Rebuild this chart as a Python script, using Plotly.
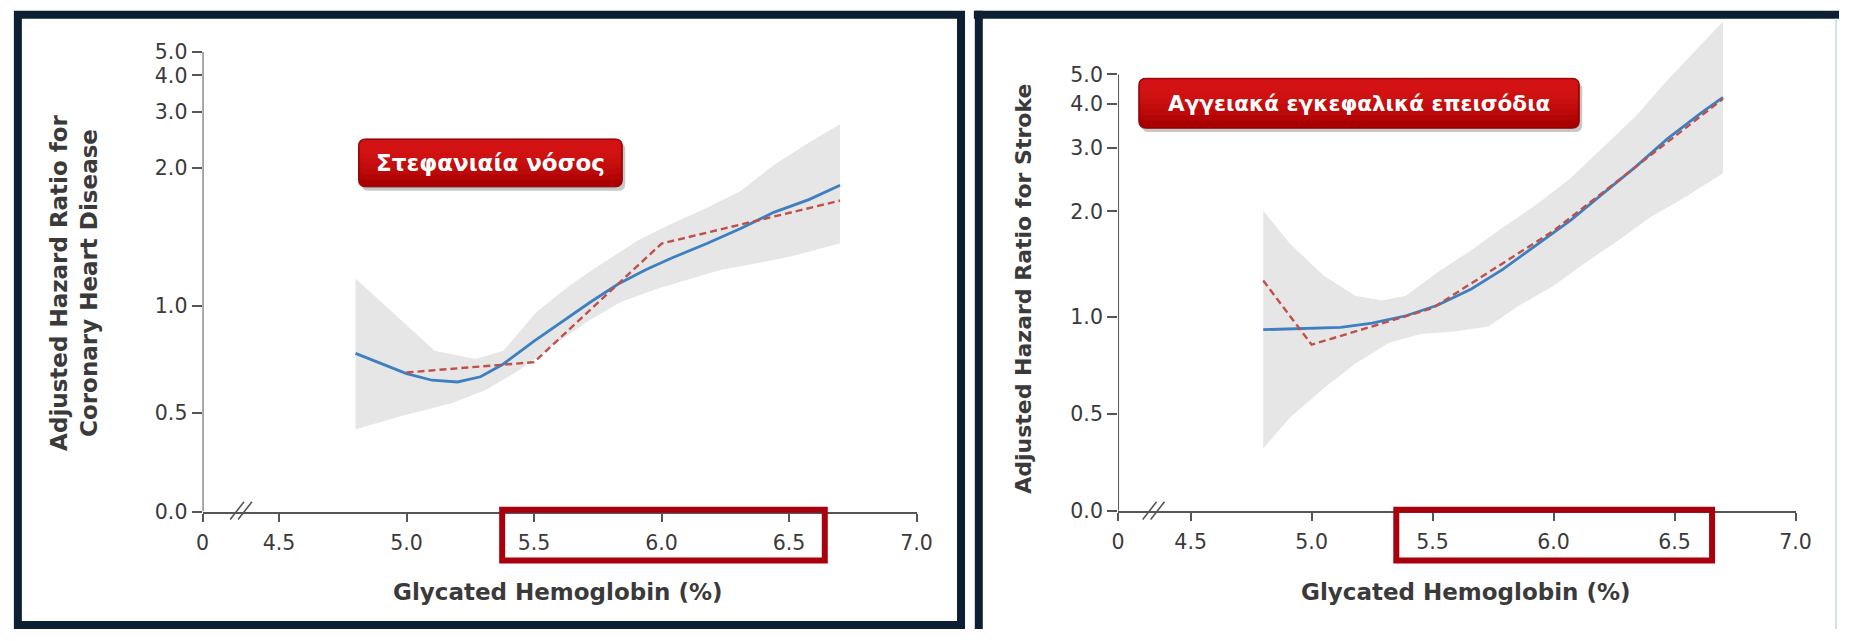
import numpy as np
import plotly.graph_objects as go

W, H = 1855, 641

# ---------------- data ----------------
# Coronary heart disease: spline estimate, category estimates and 95% band
chd_x = [4.8, 5.0, 5.1, 5.2, 5.29, 5.38, 5.5, 5.62, 5.72, 5.83, 5.94, 6.04, 6.18, 6.31, 6.44, 6.58, 6.7]
chd_hr = [0.736, 0.645, 0.618, 0.611, 0.632, 0.687, 0.797, 0.915, 1.02, 1.118, 1.203, 1.274,
          1.372, 1.477, 1.603, 1.711, 1.837]
chd_cat_x = [5.0, 5.5, 6.0, 6.7]
chd_cat_hr = [0.65, 0.695, 1.37, 1.70]
chd_upper_x = [4.8, 5.0, 5.11, 5.27, 5.38, 5.51, 5.64, 5.75, 5.91, 6.04, 6.18, 6.31, 6.44, 6.58, 6.7]
chd_upper = [1.149, 0.886, 0.748, 0.709, 0.748, 0.965, 1.109, 1.223, 1.395, 1.514, 1.643, 1.784,
             2.047, 2.41, 2.74]
chd_lower_x = [4.8, 4.98, 5.18, 5.31, 5.44, 5.58, 5.71, 5.84, 5.98, 6.11, 6.24, 6.38, 6.51, 6.7]
chd_lower = [0.449, 0.49, 0.533, 0.58, 0.658, 0.78, 0.905, 1.021, 1.09, 1.146, 1.203, 1.243,
             1.285, 1.372]

# Stroke
stk_x = [4.8, 4.98, 5.12, 5.25, 5.39, 5.52, 5.66, 5.79, 5.93, 6.07, 6.2, 6.34, 6.47, 6.61, 6.7]
stk_hr = [0.913, 0.919, 0.928, 0.957, 1.008, 1.08, 1.202, 1.367, 1.604, 1.884, 2.228, 2.66,
          3.18, 3.77, 4.2]
stk_cat_x = [4.8, 5.0, 5.5, 6.0, 6.7]
stk_cat_hr = [1.27, 0.82, 1.06, 1.76, 4.15]
stk_upper_x = [4.8, 4.91, 5.05, 5.18, 5.29, 5.39, 5.52, 5.66, 5.79, 5.93, 6.07, 6.2, 6.34,
               6.47, 6.61, 6.7]
stk_upper = [2.01, 1.62, 1.31, 1.15, 1.115, 1.15, 1.34, 1.55, 1.8, 2.09, 2.47, 2.98, 3.69,
             4.78, 6.28, 7.47]
stk_lower_x = [4.8, 4.91, 5.05, 5.18, 5.32, 5.45, 5.59, 5.73, 5.86, 6.0, 6.13, 6.27, 6.4,
               6.54, 6.7]
stk_lower = [0.39, 0.486, 0.6, 0.715, 0.832, 0.886, 0.902, 0.934, 1.08, 1.228, 1.426, 1.657,
             1.924, 2.18, 2.55]

# axis ticks
tick_hr = [0.5, 1.0, 2.0, 3.0, 4.0, 5.0]
tick_hr_text = ["0.5", "1.0", "2.0", "3.0", "4.0", "5.0"]
x_tick_vals = [4.2, 4.5, 5.0, 5.5, 6.0, 6.5, 7.0]
x_tick_text = ["0", "4.5", "5.0", "5.5", "6.0", "6.5", "7.0"]

# ---------------- hazard-ratio scale ----------------
# The vertical scale is piecewise logarithmic between the labelled ticks
# (spacing of each panel's printed axis); 0.0 marks the axis origin.
chd_scale = [101, 210, 351, 409, 446, 470]
stk_scale = [99, 198, 306, 371, 416, 446]


def hr_axis(hr, scale):
    lh = np.log(np.asarray(hr, float))
    lt = np.log(tick_hr)
    tu = np.asarray(scale, float)
    u = np.interp(lh, lt, tu)
    lo, hi = lh < lt[0], lh > lt[-1]
    u[lo] = tu[0] + (lh[lo] - lt[0]) * (tu[1] - tu[0]) / (lt[1] - lt[0])
    u[hi] = tu[-1] + (lh[hi] - lt[-1]) * (tu[-1] - tu[-2]) / (lt[-1] - lt[-2])
    return u


def px(x):
    return x / W


def py(y):
    return 1 - y / H


BAND = "#e6e6e6"
BLUE = "#3d7fc0"
RED = "#c0504a"
AXIS = "#555555"
TXT = "#3a3a3a"

fig = go.Figure()


def add_panel(xa, ya, x, hr, cx, chr_, ux, up, lx, lo, scale):
    bx = list(ux) + list(lx)[::-1]
    by = np.concatenate([hr_axis(up, scale), hr_axis(lo, scale)[::-1]])
    fig.add_trace(go.Scatter(x=bx, y=by, xaxis=xa, yaxis=ya, fill="toself", fillcolor=BAND,
                             line=dict(width=0), mode="lines", hoverinfo="skip", showlegend=False))
    fig.add_trace(go.Scatter(x=x, y=hr_axis(hr, scale), xaxis=xa, yaxis=ya, mode="lines",
                             line=dict(color=BLUE, width=2.8), showlegend=False))
    fig.add_trace(go.Scatter(x=cx, y=hr_axis(chr_, scale), xaxis=xa, yaxis=ya, mode="lines",
                             line=dict(color=RED, width=2.4, dash="7px,4px"), showlegend=False))


add_panel("x", "y", chd_x, chd_hr, chd_cat_x, chd_cat_hr, chd_upper_x, chd_upper,
          chd_lower_x, chd_lower, chd_scale)
add_panel("x2", "y2", stk_x, stk_hr, stk_cat_x, stk_cat_hr, stk_upper_x, stk_upper,
          stk_lower_x, stk_lower, stk_scale)

tickfont = dict(family="DejaVu Sans", size=20.5, color=TXT)


def xaxis(domain):
    return dict(domain=domain, range=[4.2, 7.0], showgrid=False, zeroline=False,
                showline=True, linecolor=AXIS, linewidth=2, ticks="outside", ticklen=8,
                tickwidth=2, tickcolor=AXIS, tickvals=x_tick_vals, ticktext=x_tick_text,
                tickfont=tickfont, ticklabelstandoff=4)


def yaxis(domain, top, scale, anchor):
    return dict(domain=domain, range=[0, top], showgrid=False, zeroline=False, showline=False,
                ticks="outside", ticklen=10, tickwidth=2, tickcolor=AXIS,
                tickvals=[0] + list(hr_axis(tick_hr, scale)), ticktext=["0.0"] + tick_hr_text,
                tickfont=tickfont, anchor=anchor)


fig.update_layout(
    width=W, height=H, autosize=False,
    margin=dict(l=0, r=0, t=0, b=0),
    paper_bgcolor="white", plot_bgcolor="rgba(0,0,0,0)",
    xaxis=dict(xaxis([px(198), px(921)]), anchor="y"),
    yaxis=yaxis([py(521), py(41)], 480, chd_scale, "x"),
    xaxis2=dict(xaxis([px(1125), px(1811)]), anchor="y2"),
    yaxis2=yaxis([py(520), py(12)], 508, stk_scale, "x2"),
)

shapes = []
# vertical axis lines from 0.0 up to 5.0
for xr, yr, scale in (("x", "y", chd_scale), ("x2", "y2", stk_scale)):
    shapes.append(dict(type="line", xref=xr, yref=yr, x0=4.2, x1=4.2, y0=0,
                       y1=float(hr_axis([5.0], scale)[0]), line=dict(color=AXIS, width=2)))

# axis break marks
for x0 in (226, 234, 1150, 1158):
    shapes.append(dict(type="line", xref="paper", yref="paper", x0=px(x0), x1=px(x0 + 14),
                       y0=py(529), y1=py(511), line=dict(color=AXIS, width=1.6)))

# highlighted 5.5-6.5 range
for xr, a, b in (("x", 5.375, 6.64), ("x2", 5.35, 6.655)):
    shapes.append(dict(type="rect", xref=xr, yref="paper", x0=a, x1=b, y0=py(571), y1=py(519),
                       line=dict(color="#a8000c", width=6), layer="above"))

# panel frames
FRAME = "#0d1f33"
shapes.append(dict(type="rect", xref="paper", yref="paper", x0=px(11), x1=px(966),
                   y0=py(637), y1=py(13), line=dict(color=FRAME, width=8)))
shapes.append(dict(type="line", xref="paper", yref="paper", x0=px(979), x1=1,
                   y0=py(13), y1=py(13), line=dict(color=FRAME, width=8)))
shapes.append(dict(type="line", xref="paper", yref="paper", x0=px(984), x1=px(984),
                   y0=py(9), y1=0, line=dict(color=FRAME, width=8)))
shapes.append(dict(type="line", xref="paper", yref="paper", x0=px(1852), x1=px(1852),
                   y0=py(17), y1=0, line=dict(color="#cfe2ee", width=2)))


def rounded(x0, y0, x1, y1, r):
    p = [f"M {px(x0 + r)},{py(y0)}", f"L {px(x1 - r)},{py(y0)}",
         f"Q {px(x1)},{py(y0)} {px(x1)},{py(y0 + r)}", f"L {px(x1)},{py(y1 - r)}",
         f"Q {px(x1)},{py(y1)} {px(x1 - r)},{py(y1)}", f"L {px(x0 + r)},{py(y1)}",
         f"Q {px(x0)},{py(y1)} {px(x0)},{py(y1 - r)}", f"L {px(x0)},{py(y0 + r)}",
         f"Q {px(x0)},{py(y0)} {px(x0 + r)},{py(y0)}", "Z"]
    return " ".join(p)


labels = [("Στεφανιαία νόσος", 356, 140, 623, 189, 23),
          ("Αγγειακά εγκεφαλικά επεισόδια", 1146, 78, 1592, 129, 21.5)]
annotations = []
for text, x0, y0, x1, y1, fs in labels:
    shapes.append(dict(type="path", xref="paper", yref="paper",
                       path=rounded(x0 + 3, y0 + 4, x1 + 3, y1 + 4, 7),
                       fillcolor="rgba(0,0,0,0.22)", line=dict(width=0)))
    shapes.append(dict(type="path", xref="paper", yref="paper",
                       path=rounded(x0, y0, x1, y1, 7),
                       fillcolor="#a80000", line=dict(color="#8a0000", width=1)))
    h = y1 - y0
    for k in range(6):
        shapes.append(dict(type="path", xref="paper", yref="paper",
                           path=rounded(x0 + 1, y0 + 1, x1 - 1, y0 + h * (0.85 - 0.11 * k), 6),
                           fillcolor="rgba(235,30,30,0.16)", line=dict(width=0)))
    annotations.append(dict(xref="paper", yref="paper", x=px((x0 + x1) / 2),
                            y=py((y0 + y1) / 2), text=f"<b>{text}</b>", showarrow=False,
                            font=dict(family="DejaVu Sans", size=fs, color="white"),
                            xanchor="center", yanchor="middle"))

title_font = dict(family="DejaVu Sans", size=23, color=TXT)
annotations += [
    dict(xref="paper", yref="paper", x=px(558), y=py(603),
         text="<b>Glycated Hemoglobin (%)</b>", showarrow=False, font=title_font,
         xanchor="center", yanchor="middle"),
    dict(xref="paper", yref="paper", x=px(1477), y=py(603),
         text="<b>Glycated Hemoglobin (%)</b>", showarrow=False, font=title_font,
         xanchor="center", yanchor="middle"),
    dict(xref="paper", yref="paper", x=px(68), y=py(287),
         text="<b>Adjusted Hazard Ratio for<br>Coronary Heart Disease</b>", showarrow=False,
         font=title_font, textangle=-90, xanchor="center", yanchor="middle"),
    dict(xref="paper", yref="paper", x=px(1029), y=py(293),
         text="<b>Adjusted Hazard Ratio for Stroke</b>", showarrow=False,
         font=dict(title_font, size=22), textangle=-90, xanchor="center", yanchor="middle"),
]

fig.update_layout(shapes=shapes, annotations=annotations)
fig.write_html("out.html")
